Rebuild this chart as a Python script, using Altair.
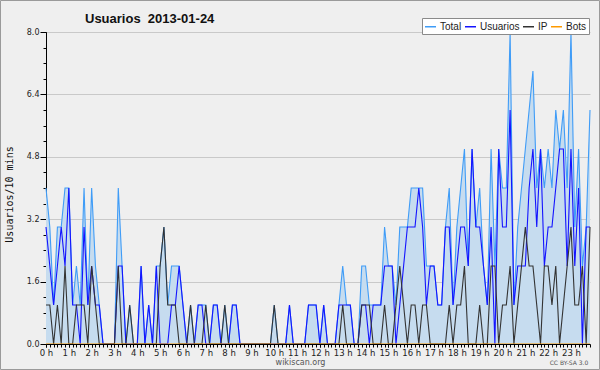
import altair as alt
import pandas as pd

# 10-minute slots (144) for 2013-01-24
usuarios = [3,2,1,2,3,2,4,1,1,0,3,1,2,1,1,0,0,0,0,2,
            2,0,0,0,0,2,0,1,0,2,0,0,0,1,1,2,1,0,0,0,
            1,1,0,0,1,1,0,0,0,1,1,0,0,0,0,0,0,0,0,0,
            0,0,0,0,1,0,0,0,0,1,1,1,0,1,0,0,0,1,1,1,
            1,0,0,1,1,0,1,1,1,2,2,2,0,1,2,3,3,3,4,3,
            1,2,2,1,1,3,3,1,2,3,3,2,5,3,3,2,1,3,0,5,
            3,3,6,1,2,2,2,4,5,3,5,2,3,3,4,5,5,2,5,2,
            4,0,3,3]
ip = [1,1,0,1,0,2,0,0,1,1,1,0,2,1,0,0,0,0,0,2,
      0,0,1,0,0,0,0,0,0,0,2,3,1,1,1,0,0,0,1,0,
      0,0,1,0,0,0,0,1,0,0,0,0,0,0,0,0,0,0,0,0,
      1,0,0,0,0,0,0,0,0,0,0,0,0,0,0,0,0,0,1,0,
      0,0,0,1,1,1,0,0,0,1,0,0,1,2,1,0,1,1,0,1,
      1,0,0,0,0,0,1,0,1,1,2,0,0,0,1,0,0,2,2,0,
      1,1,2,0,1,2,3,2,2,1,0,2,2,1,2,0,1,2,3,1,
      1,2,0,3]
total = [4,3,1,3,3,4,4,1,2,1,4,1,4,2,1,0,0,0,0,4,
         2,0,1,0,0,2,0,1,0,2,2,3,1,2,2,2,1,0,1,0,
         1,1,1,0,1,1,0,1,0,1,1,0,0,0,0,0,0,0,0,0,
         1,0,0,0,1,0,0,0,0,1,1,1,0,1,0,0,0,1,2,1,
         1,0,0,2,2,1,1,1,1,3,2,2,1,3,3,3,4,4,4,4,
         2,2,2,1,1,3,4,1,3,4,5,2,5,3,4,2,1,5,2,5,
         4,4,8,1,3,4,5,6,7,4,5,4,5,4,6,5,6,4,8,3,
         5,2,3,6]
bots = [0] * 144

series_names = ["Total", "Usuarios", "IP", "Bots"]
series_colors = ["#3f9cf7", "#1414ff", "#333333", "#ff9a00"]
y_major = [0.0, 1.6, 3.2, 4.8, 6.4, 8.0]
y_minor = [round(k * 0.4, 1) for k in range(21)]
hour_ticks = list(range(0, 144, 6))
slot_ticks = list(range(0, 144))
chart_title = "Usuarios\u00a0\u00a02013-01-24"
license_text = "CC BY-SA 3.0"

idx = list(range(144))
area_df = pd.DataFrame({"i": idx, "v": total})
rows = []
for name, vals in zip(series_names, [total, usuarios, ip, bots]):
    for i, v in enumerate(vals):
        rows.append({"i": i, "v": v, "s": name})
line_df = pd.DataFrame(rows)

W, H = 544, 312
xscale = alt.Scale(domain=[0, 143], nice=False, zero=False)
yscale = alt.Scale(domain=[0, 8], nice=False)

area = alt.Chart(area_df).mark_area(color="#c6dcef", opacity=1).encode(
    x=alt.X("i:Q", scale=xscale, axis=alt.Axis(
        orient="bottom", values=hour_ticks, labelExpr="datum.value/6 + ' h'",
        tickSize=3, tickColor="#000", domainColor="#000", grid=False,
        labelFont="DejaVu Sans", labelFontSize=8.5, labelColor="#222",
        labelPadding=1, labelBaseline="top", labelFlush=False, labelOverlap=False,
        title="wikiscan.org", titleFont="DejaVu Sans", titleFontSize=8,
        titleFontWeight="normal", titleColor="#555", titleX=254, titleY=18,
        titleBaseline="middle", titleAnchor="start", titleAlign="center", zindex=1)),
    y=alt.Y("v:Q", scale=yscale, axis=alt.Axis(
        orient="left", values=y_major, format=".1f", tickSize=6, tickColor="#000",
        domainColor="#000", grid=True, gridColor="#c9c9c9",
        labelFont="DejaVu Sans", labelFontSize=8, labelColor="#222", labelPadding=1,
        title="Usuarios/10 mins", titleFont="DejaVu Sans Mono", titleFontSize=10,
        titleFontWeight="normal", titleColor="#111", titleX=-37, titleY=162,
        titleAngle=-90, titleAlign="center", titleBaseline="middle")),
)

lines = alt.Chart(line_df).mark_line(strokeWidth=1.1, interpolate="linear").encode(
    x=alt.X("i:Q", scale=xscale, axis=alt.Axis(
        orient="bottom", values=slot_ticks, labels=False, tickSize=3,
        tickColor="#000", domain=False, grid=False, title=None)),
    y=alt.Y("v:Q", scale=yscale, axis=alt.Axis(
        orient="left", values=y_minor, labels=False, tickSize=3,
        tickColor="#000", domain=False, grid=False, title=None)),
    color=alt.Color("s:N", scale=alt.Scale(domain=series_names, range=series_colors),
                    sort=series_names,
                    legend=alt.Legend(
                        orient="none", legendX=376, legendY=-14, direction="horizontal",
                        title=None, symbolType="stroke", symbolSize=121,
                        symbolStrokeWidth=1.5, labelFont="Liberation Sans",
                        labelFontSize=10, labelColor="#222", columnPadding=0,
                        labelOffset=3, fillColor="#ffffff", strokeColor="#8a8a8a",
                        padding=2, symbolOffset=0)),
    order=alt.Order("i:Q"),
)

title_text = alt.Chart(pd.DataFrame({"t": [chart_title]})).mark_text(
    font="Liberation Sans", fontSize=13, fontWeight="bold", color="#111",
    align="left", baseline="alphabetic"
).encode(text="t:N", x=alt.value(39), y=alt.value(-9))

footer = alt.Chart(pd.DataFrame({"t": [license_text]})).mark_text(
    font="DejaVu Sans", fontSize=6, color="#555", align="center", baseline="middle"
).encode(text="t:N", x=alt.value(523), y=alt.value(331))

border = alt.Chart(pd.DataFrame({"a": [0]})).mark_rect(
    fill=None, stroke="#9a9a9a", strokeWidth=1
).encode(x=alt.value(-45.5), x2=alt.value(553.5), y=alt.value(-31.5), y2=alt.value(337.5))

chart = alt.layer(area, lines, title_text, footer, border).resolve_axis(
    x="independent", y="independent"
).properties(
    width=W, height=H,
    autosize=alt.AutoSizeParams(type="none"),
    padding={"left": 46, "top": 32, "right": 10, "bottom": 26},
    background="#efefef",
).configure_view(stroke=None)

chart.save("out.html", embed_options={"renderer": "svg", "actions": False})
